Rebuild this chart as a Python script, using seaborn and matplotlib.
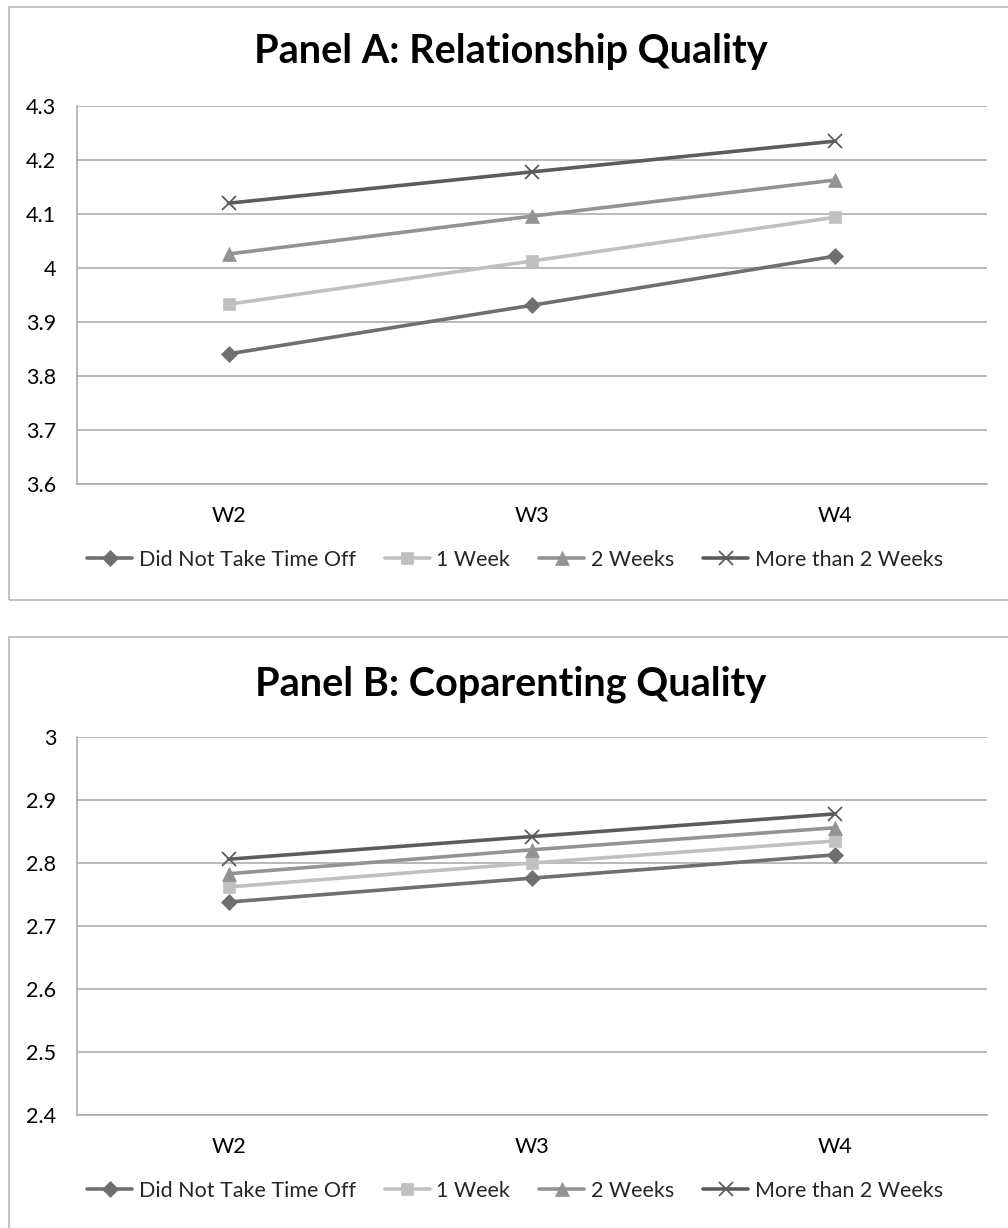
import matplotlib
matplotlib.use("Agg")
import matplotlib.pyplot as plt
import seaborn as sns
from matplotlib.patches import Rectangle

waves = ["W2", "W3", "W4"]
series_names = ["Did Not Take Time Off", "1 Week", "2 Weeks", "More than 2 Weeks"]

rel_did_not = [3.841, 3.931, 4.022]
rel_1week = [3.933, 4.013, 4.094]
rel_2weeks = [4.026, 4.096, 4.163]
rel_more2 = [4.120, 4.178, 4.235]

cop_did_not = [2.738, 2.776, 2.813]
cop_1week = [2.762, 2.800, 2.835]
cop_2weeks = [2.783, 2.821, 2.856]
cop_more2 = [2.806, 2.842, 2.878]

rel_yticks = [3.6, 3.7, 3.8, 3.9, 4.0, 4.1, 4.2, 4.3]
rel_yticklabels = ["3.6", "3.7", "3.8", "3.9", "4", "4.1", "4.2", "4.3"]
cop_yticks = [2.4, 2.5, 2.6, 2.7, 2.8, 2.9, 3.0]
cop_yticklabels = ["2.4", "2.5", "2.6", "2.7", "2.8", "2.9", "3"]

titles = ["Panel A: Relationship Quality", "Panel B: Coparenting Quality"]

colors = ["#6f6f6f", "#c0c0c0", "#939393", "#5c5c5c"]
markers = ["D", "s", "^", "x"]
msizes = [8, 9, 10, 10]

sns.set_style("white")
plt.rcParams["font.family"] = ["Lato", "DejaVu Sans"]

W, H = 1008, 1228
fig = plt.figure(figsize=(W / 100, H / 100), dpi=100)

def fx(px):
    return px / W

def fy(py):
    return 1 - py / H

# panel boxes
for top, bot in [(7, 600), (637, 1240)]:
    fig.patches.append(Rectangle((fx(9), fy(bot)), fx(1020) - fx(9), fy(top) - fy(bot),
                                 transform=fig.transFigure, fill=False,
                                 edgecolor="#bdbdbd", linewidth=1.3, zorder=0))

panels = [
    (106, 484, [rel_did_not, rel_1week, rel_2weeks, rel_more2], rel_yticks, rel_yticklabels, 52, 560),
    (737, 1115, [cop_did_not, cop_1week, cop_2weeks, cop_more2], cop_yticks, cop_yticklabels, 684, 1191),
]

for i, (top, bot, data, yt, ytl, title_y, leg_y) in enumerate(panels):
    ax = fig.add_axes([fx(77), fy(bot), fx(987) - fx(77), fy(top) - fy(bot)])
    for name, vals, c, m, ms in zip(series_names, data, colors, markers, msizes):
        sns.lineplot(x=waves, y=vals, color=c, marker=m, markersize=ms,
                     markeredgecolor=c, markeredgewidth=1.3 if m == "x" else 0.5,
                     linewidth=2.6, label=name, ax=ax, sort=False)
    ax.set_xlim(-0.5, 2.5)
    ax.set_ylim(yt[0], yt[-1])
    ax.set_yticks(yt)
    ax.set_yticklabels(ytl)
    ax.grid(axis="y", color="#a6a6a6", linewidth=1.1)
    ax.set_axisbelow(True)
    for s in ["top", "right"]:
        ax.spines[s].set_visible(False)
    for s in ["left", "bottom"]:
        ax.spines[s].set_color("#a6a6a6")
        ax.spines[s].set_linewidth(1.1)
    ax.tick_params(axis="both", length=0, labelsize=15.5, colors="black")
    ax.tick_params(axis="y", pad=15)
    ax.tick_params(axis="x", pad=16)
    ax.set_xlabel("")
    ax.set_ylabel("")
    fig.text(fx(511), fy(title_y), titles[i], ha="center", va="center",
             fontsize=28.5, fontweight="bold", color="black")
    ax.legend(loc="center", bbox_to_anchor=(fx(515), fy(leg_y)),
              bbox_transform=fig.transFigure, ncol=4, frameon=False,
              fontsize=15.5, handlelength=2.1, handletextpad=0.3, columnspacing=1.35)

fig.savefig("out.png", dpi=100)
